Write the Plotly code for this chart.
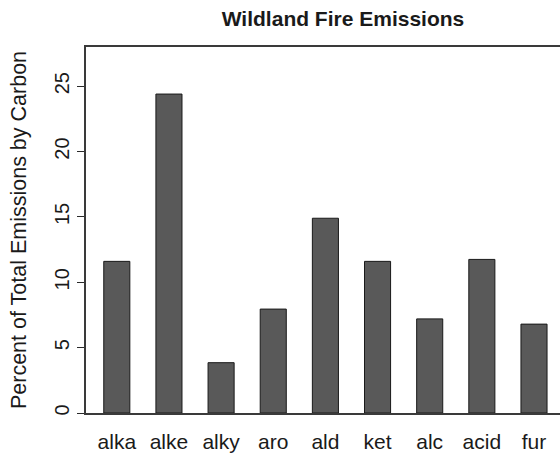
import plotly.graph_objects as go

categories = ["alka", "alke", "alky", "aro", "ald", "ket", "alc", "acid", "fur"]
percent_carbon = [11.6, 24.4, 3.85, 7.95, 14.9, 11.6, 7.2, 11.75, 6.8]
y_ticks = [0, 5, 10, 15, 20, 25]

FONT = "Liberation Sans, Arial, Helvetica, sans-serif"

fig = go.Figure()
fig.add_trace(go.Bar(
    x=list(range(len(categories))),
    y=percent_carbon,
    width=0.5,
    marker=dict(color="#595959", line=dict(color="#1a1a1a", width=1)),
    hoverinfo="skip",
))

fig.update_layout(
    width=560,
    height=453,
    margin=dict(l=86, r=0, t=47, b=40, pad=0, autoexpand=False),
    paper_bgcolor="white",
    plot_bgcolor="white",
    showlegend=False,
    font=dict(family=FONT, color="#1a1a1a", size=20),
    title=dict(
        text="<b>Wildland Fire Emissions</b>",
        x=343 / 560, xref="container", xanchor="center",
        y=1 - 19 / 453, yref="container", yanchor="middle",
        font=dict(family=FONT, size=21, color="#1a1a1a"),
        automargin=False,
    ),
    xaxis=dict(
        range=[-0.5906, 8.4986],
        tickmode="array",
        tickvals=list(range(len(categories))),
        ticktext=categories,
        ticks="",
        showgrid=False,
        zeroline=False,
        showline=True,
        linecolor="#3a3a3a",
        linewidth=1.5,
        mirror=True,
        tickfont=dict(size=21),
        ticklabelstandoff=9,
        automargin=False,
    ),
    yaxis=dict(
        range=[0, 28],
        tickmode="array",
        tickvals=y_ticks,
        ticktext=[str(v) for v in y_ticks],
        ticks="outside",
        ticklen=7,
        tickwidth=1.3,
        tickcolor="#2a2a2a",
        tickangle=-90,
        showgrid=False,
        zeroline=False,
        showline=True,
        linecolor="#3a3a3a",
        linewidth=1.5,
        tickfont=dict(size=20),
        title=dict(text="Percent of Total Emissions by Carbon", font=dict(size=21.5), standoff=19),
        automargin=False,
    ),
)

fig.write_html(
    "out.html",
    config={"displayModeBar": False},
    post_script="document.body.style.margin='0';document.body.style.padding='0';",
)
